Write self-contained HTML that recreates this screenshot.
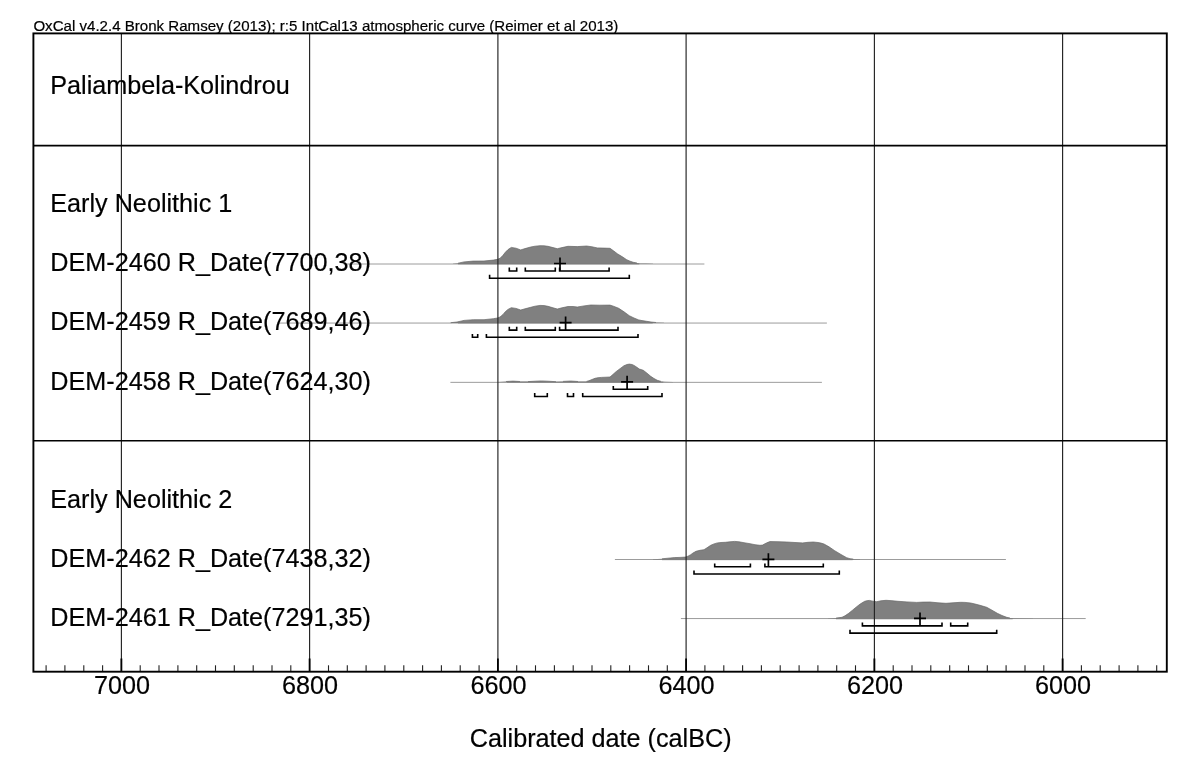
<!DOCTYPE html>
<html><head><meta charset="utf-8"><title>OxCal</title>
<style>
html,body{margin:0;padding:0;background:#fff;}
body{width:1200px;height:772px;overflow:hidden;}
svg{display:block;will-change:transform;opacity:0.999;}
text{font-family:"Liberation Sans",sans-serif;fill:#000;stroke:#000;stroke-width:0.2px;}
</style></head><body>
<svg width="1200" height="772" viewBox="0 0 1200 772">
<rect x="0" y="0" width="1200" height="772" fill="#fff"/>
<text x="33.4" y="30.8" font-size="15.09px">OxCal v4.2.4 Bronk Ramsey (2013); r:5 IntCal13 atmospheric curve (Reimer et al 2013)</text>
<line x1="343.5" y1="264.0" x2="704.4" y2="264.0" stroke="#9c9c9c" stroke-width="1"/>
<line x1="279" y1="323.05" x2="826.9" y2="323.05" stroke="#9c9c9c" stroke-width="1"/>
<line x1="450.4" y1="382.35" x2="821.9" y2="382.35" stroke="#9c9c9c" stroke-width="1"/>
<line x1="614.9" y1="559.5" x2="1005.9" y2="559.5" stroke="#9c9c9c" stroke-width="1"/>
<line x1="680.9" y1="618.55" x2="1085.7" y2="618.55" stroke="#9c9c9c" stroke-width="1"/>
<path d="M453.0,263.7 L458.0,263.2 L464.0,261.9 L473.0,261.1 L484.0,261.0 L493.3,260.1 L497.5,259.3 L500.0,258.3 L503.0,255.3 L505.3,252.3 L508.0,249.6 L511.3,247.4 L516.0,248.2 L520.7,249.9 L525.0,248.6 L530.7,247.0 L535.0,246.2 L540.0,245.7 L544.0,245.8 L548.0,246.3 L553.0,247.6 L557.3,248.7 L562.0,247.6 L568.0,246.3 L577.3,246.6 L586.7,246.0 L592.0,246.8 L597.3,247.9 L604.0,248.1 L610.0,248.3 L613.5,250.8 L617.3,253.7 L622.0,256.6 L626.7,259.7 L630.0,261.2 L633.3,262.3 L637.0,263.0 L640.0,263.4 L646.0,263.6 L653.0,263.7 L653.0,263.9 L453.0,263.9 Z" fill="#808080"/>
<path d="M458.0,263.2 L464.0,261.9 L473.0,261.1 L484.0,261.0 L493.3,260.1 L497.5,259.3 L500.0,258.3 L503.0,255.3 L505.3,252.3 L508.0,249.6 L511.3,247.4 L516.0,248.2 L520.7,249.9 L525.0,248.6 L530.7,247.0 L535.0,246.2 L540.0,245.7 L544.0,245.8 L548.0,246.3 L553.0,247.6 L557.3,248.7 L562.0,247.6 L568.0,246.3 L577.3,246.6 L586.7,246.0 L592.0,246.8 L597.3,247.9 L604.0,248.1 L610.0,248.3 L613.5,250.8 L617.3,253.7 L622.0,256.6 L626.7,259.7 L630.0,261.2 L633.3,262.3 L637.0,263.0" fill="none" stroke="#666" stroke-width="0.7" stroke-linejoin="round"/>
<line x1="458.0" y1="263.9" x2="639.3" y2="263.9" stroke="#777" stroke-width="0.7"/>
<path d="M450.7,322.7 L457.0,322.0 L464.0,320.4 L473.3,319.7 L484.0,319.7 L493.3,318.7 L497.5,318.0 L500.0,317.0 L503.0,314.5 L505.3,311.7 L508.0,309.4 L511.3,307.7 L516.0,308.4 L520.7,310.0 L525.0,308.8 L530.7,307.3 L535.0,306.2 L540.0,305.4 L544.0,305.6 L548.0,306.3 L553.0,307.8 L557.3,309.0 L562.0,307.8 L568.0,306.5 L573.0,306.5 L577.3,307.0 L584.0,305.9 L590.7,305.0 L600.0,305.2 L610.0,305.1 L614.0,306.4 L618.7,308.3 L624.0,311.8 L629.3,315.7 L634.0,318.0 L638.7,319.9 L642.0,320.6 L646.7,321.3 L651.0,322.0 L656.0,322.5 L664.0,322.7 L664.0,323.0 L450.7,323.0 Z" fill="#808080"/>
<path d="M450.7,322.7 L457.0,322.0 L464.0,320.4 L473.3,319.7 L484.0,319.7 L493.3,318.7 L497.5,318.0 L500.0,317.0 L503.0,314.5 L505.3,311.7 L508.0,309.4 L511.3,307.7 L516.0,308.4 L520.7,310.0 L525.0,308.8 L530.7,307.3 L535.0,306.2 L540.0,305.4 L544.0,305.6 L548.0,306.3 L553.0,307.8 L557.3,309.0 L562.0,307.8 L568.0,306.5 L573.0,306.5 L577.3,307.0 L584.0,305.9 L590.7,305.0 L600.0,305.2 L610.0,305.1 L614.0,306.4 L618.7,308.3 L624.0,311.8 L629.3,315.7 L634.0,318.0 L638.7,319.9 L642.0,320.6 L646.7,321.3 L651.0,322.0 L656.0,322.5" fill="none" stroke="#666" stroke-width="0.7" stroke-linejoin="round"/>
<line x1="458.0" y1="323.0" x2="652.7" y2="323.0" stroke="#777" stroke-width="0.7"/>
<path d="M498.0,381.9 L506.0,381.5 L513.0,381.1 L520.0,381.5 L528.0,381.6 L535.0,381.2 L541.3,380.9 L548.0,381.2 L556.0,381.7 L563.0,381.4 L570.7,381.0 L578.0,381.5 L586.5,381.4 L589.0,380.7 L592.0,379.5 L595.0,378.3 L598.0,377.7 L601.3,377.4 L606.0,377.2 L610.0,377.0 L612.0,375.3 L616.0,371.7 L620.0,368.7 L624.0,365.7 L627.0,364.5 L629.3,364.1 L632.0,364.5 L634.0,365.4 L636.5,367.0 L639.3,369.0 L643.3,370.3 L647.0,373.2 L650.7,376.3 L654.0,378.5 L657.3,380.3 L661.0,381.4 L665.3,381.8 L673.0,381.9 L673.0,382.2 L498.0,382.2 Z" fill="#808080"/>
<path d="M506.0,381.5 L513.0,381.1 L520.0,381.5 M528.0,381.6 L535.0,381.2 L541.3,380.9 L548.0,381.2 L556.0,381.7 M563.0,381.4 L570.7,381.0 L578.0,381.5 M586.5,381.4 L589.0,380.7 L592.0,379.5 L595.0,378.3 L598.0,377.7 L601.3,377.4 L606.0,377.2 L610.0,377.0 L612.0,375.3 L616.0,371.7 L620.0,368.7 L624.0,365.7 L627.0,364.5 L629.3,364.1 L632.0,364.5 L634.0,365.4 L636.5,367.0 L639.3,369.0 L643.3,370.3 L647.0,373.2 L650.7,376.3 L654.0,378.5 L657.3,380.3 L661.0,381.4" fill="none" stroke="#666" stroke-width="0.7" stroke-linejoin="round"/>
<line x1="507.0" y1="382.2" x2="663.3" y2="382.2" stroke="#777" stroke-width="0.7"/>
<path d="M653.0,559.3 L662.0,558.8 L668.0,558.2 L674.7,557.6 L680.0,557.4 L685.3,557.1 L688.0,556.2 L690.7,554.7 L693.0,553.0 L696.0,551.3 L700.0,550.3 L704.0,549.7 L707.0,547.8 L710.7,545.3 L714.0,543.9 L717.3,542.9 L721.0,542.5 L725.3,542.3 L730.0,541.8 L734.7,541.4 L739.0,541.8 L744.0,542.7 L750.0,543.7 L755.0,544.7 L760.0,545.3 L762.5,545.1 L765.0,543.7 L768.0,542.3 L770.0,541.6 L778.0,541.7 L786.7,542.0 L795.0,542.5 L802.7,542.9 L808.0,542.3 L813.3,542.0 L818.0,542.5 L821.0,543.1 L824.0,544.0 L829.0,546.8 L834.7,550.7 L841.0,554.5 L846.7,557.7 L850.0,558.7 L853.3,559.1 L860.0,559.3 L860.0,559.7 L653.0,559.7 Z" fill="#808080"/>
<path d="M662.0,558.8 L668.0,558.2 L674.7,557.6 L680.0,557.4 L685.3,557.1 L688.0,556.2 L690.7,554.7 L693.0,553.0 L696.0,551.3 L700.0,550.3 L704.0,549.7 L707.0,547.8 L710.7,545.3 L714.0,543.9 L717.3,542.9 L721.0,542.5 L725.3,542.3 L730.0,541.8 L734.7,541.4 L739.0,541.8 L744.0,542.7 L750.0,543.7 L755.0,544.7 L760.0,545.3 L762.5,545.1 L765.0,543.7 L768.0,542.3 L770.0,541.6 L778.0,541.7 L786.7,542.0 L795.0,542.5 L802.7,542.9 L808.0,542.3 L813.3,542.0 L818.0,542.5 L821.0,543.1 L824.0,544.0 L829.0,546.8 L834.7,550.7 L841.0,554.5 L846.7,557.7 L850.0,558.7 L853.3,559.1" fill="none" stroke="#666" stroke-width="0.7" stroke-linejoin="round"/>
<line x1="662.0" y1="559.7" x2="852.7" y2="559.7" stroke="#777" stroke-width="0.7"/>
<path d="M828.0,618.4 L836.0,618.1 L842.0,617.3 L845.0,615.8 L848.7,613.3 L852.5,610.2 L856.7,606.7 L860.5,603.8 L864.7,601.3 L867.0,600.7 L869.3,600.4 L873.0,601.2 L876.7,601.7 L881.0,600.8 L886.0,600.3 L892.0,600.7 L898.0,601.3 L907.0,601.9 L916.7,602.4 L923.0,602.1 L930.0,602.0 L938.0,602.8 L946.0,603.3 L953.0,602.8 L960.7,602.3 L965.0,602.4 L970.7,603.0 L975.0,604.0 L980.0,605.3 L986.7,607.3 L992.0,610.2 L997.3,613.3 L1002.0,615.5 L1006.7,617.3 L1010.0,618.0 L1014.7,618.3 L1033.0,618.4 L1033.0,618.8 L828.0,618.8 Z" fill="#808080"/>
<path d="M836.0,618.1 L842.0,617.3 L845.0,615.8 L848.7,613.3 L852.5,610.2 L856.7,606.7 L860.5,603.8 L864.7,601.3 L867.0,600.7 L869.3,600.4 L873.0,601.2 L876.7,601.7 L881.0,600.8 L886.0,600.3 L892.0,600.7 L898.0,601.3 L907.0,601.9 L916.7,602.4 L923.0,602.1 L930.0,602.0 L938.0,602.8 L946.0,603.3 L953.0,602.8 L960.7,602.3 L965.0,602.4 L970.7,603.0 L975.0,604.0 L980.0,605.3 L986.7,607.3 L992.0,610.2 L997.3,613.3 L1002.0,615.5 L1006.7,617.3 L1010.0,618.0" fill="none" stroke="#666" stroke-width="0.7" stroke-linejoin="round"/>
<line x1="836.0" y1="618.8" x2="1012.7" y2="618.8" stroke="#777" stroke-width="0.7"/>
<line x1="121.4" y1="33.4" x2="121.4" y2="671.6" stroke="#222" stroke-width="1.15"/>
<line x1="121.4" y1="658.5" x2="121.4" y2="671.6" stroke="#000" stroke-width="1.8"/>
<line x1="309.6" y1="33.4" x2="309.6" y2="671.6" stroke="#222" stroke-width="1.15"/>
<line x1="309.6" y1="658.5" x2="309.6" y2="671.6" stroke="#000" stroke-width="1.8"/>
<line x1="497.9" y1="33.4" x2="497.9" y2="671.6" stroke="#222" stroke-width="1.15"/>
<line x1="497.9" y1="658.5" x2="497.9" y2="671.6" stroke="#000" stroke-width="1.8"/>
<line x1="686.1" y1="33.4" x2="686.1" y2="671.6" stroke="#222" stroke-width="1.15"/>
<line x1="686.1" y1="658.5" x2="686.1" y2="671.6" stroke="#000" stroke-width="1.8"/>
<line x1="874.4" y1="33.4" x2="874.4" y2="671.6" stroke="#222" stroke-width="1.15"/>
<line x1="874.4" y1="658.5" x2="874.4" y2="671.6" stroke="#000" stroke-width="1.8"/>
<line x1="1062.6" y1="33.4" x2="1062.6" y2="671.6" stroke="#222" stroke-width="1.15"/>
<line x1="1062.6" y1="658.5" x2="1062.6" y2="671.6" stroke="#000" stroke-width="1.8"/>
<line x1="46.1" y1="665.3" x2="46.1" y2="671.6" stroke="#222" stroke-width="1.1"/>
<line x1="64.9" y1="665.3" x2="64.9" y2="671.6" stroke="#222" stroke-width="1.1"/>
<line x1="83.8" y1="665.3" x2="83.8" y2="671.6" stroke="#222" stroke-width="1.1"/>
<line x1="102.6" y1="665.3" x2="102.6" y2="671.6" stroke="#222" stroke-width="1.1"/>
<line x1="140.2" y1="665.3" x2="140.2" y2="671.6" stroke="#222" stroke-width="1.1"/>
<line x1="159.0" y1="665.3" x2="159.0" y2="671.6" stroke="#222" stroke-width="1.1"/>
<line x1="177.9" y1="665.3" x2="177.9" y2="671.6" stroke="#222" stroke-width="1.1"/>
<line x1="196.7" y1="665.3" x2="196.7" y2="671.6" stroke="#222" stroke-width="1.1"/>
<line x1="215.5" y1="665.3" x2="215.5" y2="671.6" stroke="#222" stroke-width="1.1"/>
<line x1="234.3" y1="665.3" x2="234.3" y2="671.6" stroke="#222" stroke-width="1.1"/>
<line x1="253.2" y1="665.3" x2="253.2" y2="671.6" stroke="#222" stroke-width="1.1"/>
<line x1="272.0" y1="665.3" x2="272.0" y2="671.6" stroke="#222" stroke-width="1.1"/>
<line x1="290.8" y1="665.3" x2="290.8" y2="671.6" stroke="#222" stroke-width="1.1"/>
<line x1="328.5" y1="665.3" x2="328.5" y2="671.6" stroke="#222" stroke-width="1.1"/>
<line x1="347.3" y1="665.3" x2="347.3" y2="671.6" stroke="#222" stroke-width="1.1"/>
<line x1="366.1" y1="665.3" x2="366.1" y2="671.6" stroke="#222" stroke-width="1.1"/>
<line x1="384.9" y1="665.3" x2="384.9" y2="671.6" stroke="#222" stroke-width="1.1"/>
<line x1="403.8" y1="665.3" x2="403.8" y2="671.6" stroke="#222" stroke-width="1.1"/>
<line x1="422.6" y1="665.3" x2="422.6" y2="671.6" stroke="#222" stroke-width="1.1"/>
<line x1="441.4" y1="665.3" x2="441.4" y2="671.6" stroke="#222" stroke-width="1.1"/>
<line x1="460.2" y1="665.3" x2="460.2" y2="671.6" stroke="#222" stroke-width="1.1"/>
<line x1="479.1" y1="665.3" x2="479.1" y2="671.6" stroke="#222" stroke-width="1.1"/>
<line x1="516.7" y1="665.3" x2="516.7" y2="671.6" stroke="#222" stroke-width="1.1"/>
<line x1="535.5" y1="665.3" x2="535.5" y2="671.6" stroke="#222" stroke-width="1.1"/>
<line x1="554.4" y1="665.3" x2="554.4" y2="671.6" stroke="#222" stroke-width="1.1"/>
<line x1="573.2" y1="665.3" x2="573.2" y2="671.6" stroke="#222" stroke-width="1.1"/>
<line x1="592.0" y1="665.3" x2="592.0" y2="671.6" stroke="#222" stroke-width="1.1"/>
<line x1="610.8" y1="665.3" x2="610.8" y2="671.6" stroke="#222" stroke-width="1.1"/>
<line x1="629.6" y1="665.3" x2="629.6" y2="671.6" stroke="#222" stroke-width="1.1"/>
<line x1="648.5" y1="665.3" x2="648.5" y2="671.6" stroke="#222" stroke-width="1.1"/>
<line x1="667.3" y1="665.3" x2="667.3" y2="671.6" stroke="#222" stroke-width="1.1"/>
<line x1="704.9" y1="665.3" x2="704.9" y2="671.6" stroke="#222" stroke-width="1.1"/>
<line x1="723.8" y1="665.3" x2="723.8" y2="671.6" stroke="#222" stroke-width="1.1"/>
<line x1="742.6" y1="665.3" x2="742.6" y2="671.6" stroke="#222" stroke-width="1.1"/>
<line x1="761.4" y1="665.3" x2="761.4" y2="671.6" stroke="#222" stroke-width="1.1"/>
<line x1="780.2" y1="665.3" x2="780.2" y2="671.6" stroke="#222" stroke-width="1.1"/>
<line x1="799.1" y1="665.3" x2="799.1" y2="671.6" stroke="#222" stroke-width="1.1"/>
<line x1="817.9" y1="665.3" x2="817.9" y2="671.6" stroke="#222" stroke-width="1.1"/>
<line x1="836.7" y1="665.3" x2="836.7" y2="671.6" stroke="#222" stroke-width="1.1"/>
<line x1="855.5" y1="665.3" x2="855.5" y2="671.6" stroke="#222" stroke-width="1.1"/>
<line x1="893.2" y1="665.3" x2="893.2" y2="671.6" stroke="#222" stroke-width="1.1"/>
<line x1="912.0" y1="665.3" x2="912.0" y2="671.6" stroke="#222" stroke-width="1.1"/>
<line x1="930.8" y1="665.3" x2="930.8" y2="671.6" stroke="#222" stroke-width="1.1"/>
<line x1="949.7" y1="665.3" x2="949.7" y2="671.6" stroke="#222" stroke-width="1.1"/>
<line x1="968.5" y1="665.3" x2="968.5" y2="671.6" stroke="#222" stroke-width="1.1"/>
<line x1="987.3" y1="665.3" x2="987.3" y2="671.6" stroke="#222" stroke-width="1.1"/>
<line x1="1006.1" y1="665.3" x2="1006.1" y2="671.6" stroke="#222" stroke-width="1.1"/>
<line x1="1025.0" y1="665.3" x2="1025.0" y2="671.6" stroke="#222" stroke-width="1.1"/>
<line x1="1043.8" y1="665.3" x2="1043.8" y2="671.6" stroke="#222" stroke-width="1.1"/>
<line x1="1081.4" y1="665.3" x2="1081.4" y2="671.6" stroke="#222" stroke-width="1.1"/>
<line x1="1100.2" y1="665.3" x2="1100.2" y2="671.6" stroke="#222" stroke-width="1.1"/>
<line x1="1119.1" y1="665.3" x2="1119.1" y2="671.6" stroke="#222" stroke-width="1.1"/>
<line x1="1137.9" y1="665.3" x2="1137.9" y2="671.6" stroke="#222" stroke-width="1.1"/>
<line x1="1156.7" y1="665.3" x2="1156.7" y2="671.6" stroke="#222" stroke-width="1.1"/>
<rect x="33.4" y="33.4" width="1133.4" height="638.3" fill="none" stroke="#000" stroke-width="1.9"/>
<line x1="33.4" y1="145.6" x2="1166.8" y2="145.6" stroke="#000" stroke-width="1.6"/>
<line x1="33.4" y1="440.7" x2="1166.8" y2="440.7" stroke="#000" stroke-width="1.6"/>
<path d="M509.3,267.6 L509.3,271.0 L516.7,271.0 L516.7,267.6" fill="none" stroke="#000" stroke-width="1.6" stroke-linejoin="miter"/>
<path d="M525.3,267.6 L525.3,271.0 L555.3,271.0 L555.3,267.6" fill="none" stroke="#000" stroke-width="1.6" stroke-linejoin="miter"/>
<path d="M559.6,267.6 L559.6,271.0 L609.1,271.0 L609.1,267.6" fill="none" stroke="#000" stroke-width="1.6" stroke-linejoin="miter"/>
<path d="M489.6,274.8 L489.6,278.2 L629.3,278.2 L629.3,274.8" fill="none" stroke="#000" stroke-width="1.6" stroke-linejoin="miter"/>
<path d="M554.0,263.5 L566.0,263.5 M560.0,257.5 L560.0,271.0" fill="none" stroke="#000" stroke-width="1.7"/>
<path d="M509.3,326.7 L509.3,330.1 L516.7,330.1 L516.7,326.7" fill="none" stroke="#000" stroke-width="1.6" stroke-linejoin="miter"/>
<path d="M525.3,326.7 L525.3,330.1 L555.3,330.1 L555.3,326.7" fill="none" stroke="#000" stroke-width="1.6" stroke-linejoin="miter"/>
<path d="M559.6,326.7 L559.6,330.1 L618.0,330.1 L618.0,326.7" fill="none" stroke="#000" stroke-width="1.6" stroke-linejoin="miter"/>
<path d="M472.4,333.9 L472.4,337.3 L477.7,337.3 L477.7,333.9" fill="none" stroke="#000" stroke-width="1.6" stroke-linejoin="miter"/>
<path d="M486.4,333.9 L486.4,337.3 L638.0,337.3 L638.0,333.9" fill="none" stroke="#000" stroke-width="1.6" stroke-linejoin="miter"/>
<path d="M559.6,322.6 L571.6,322.6 M565.6,316.6 L565.6,330.1" fill="none" stroke="#000" stroke-width="1.7"/>
<path d="M613.3,385.9 L613.3,389.3 L647.7,389.3 L647.7,385.9" fill="none" stroke="#000" stroke-width="1.6" stroke-linejoin="miter"/>
<path d="M534.7,393.1 L534.7,396.5 L547.3,396.5 L547.3,393.1" fill="none" stroke="#000" stroke-width="1.6" stroke-linejoin="miter"/>
<path d="M567.5,393.1 L567.5,396.5 L573.5,396.5 L573.5,393.1" fill="none" stroke="#000" stroke-width="1.6" stroke-linejoin="miter"/>
<path d="M582.7,393.1 L582.7,396.5 L662.0,396.5 L662.0,393.1" fill="none" stroke="#000" stroke-width="1.6" stroke-linejoin="miter"/>
<path d="M621.1,381.8 L633.1,381.8 M627.1,375.8 L627.1,389.3" fill="none" stroke="#000" stroke-width="1.7"/>
<path d="M714.7,563.4 L714.7,566.8 L750.4,566.8 L750.4,563.4" fill="none" stroke="#000" stroke-width="1.6" stroke-linejoin="miter"/>
<path d="M764.9,563.4 L764.9,566.8 L823.3,566.8 L823.3,563.4" fill="none" stroke="#000" stroke-width="1.6" stroke-linejoin="miter"/>
<path d="M694.0,570.6 L694.0,574.0 L839.3,574.0 L839.3,570.6" fill="none" stroke="#000" stroke-width="1.6" stroke-linejoin="miter"/>
<path d="M762.4,559.3 L774.4,559.3 M768.4,553.3 L768.4,566.8" fill="none" stroke="#000" stroke-width="1.7"/>
<path d="M862.4,622.5 L862.4,625.9 L942.0,625.9 L942.0,622.5" fill="none" stroke="#000" stroke-width="1.6" stroke-linejoin="miter"/>
<path d="M950.7,622.5 L950.7,625.9 L967.7,625.9 L967.7,622.5" fill="none" stroke="#000" stroke-width="1.6" stroke-linejoin="miter"/>
<path d="M850.0,629.7 L850.0,633.1 L996.7,633.1 L996.7,629.7" fill="none" stroke="#000" stroke-width="1.6" stroke-linejoin="miter"/>
<path d="M914.0,618.4 L926.0,618.4 M920.0,612.4 L920.0,625.9" fill="none" stroke="#000" stroke-width="1.7"/>
<text x="50.3" y="93.8" font-size="25.2px">Paliambela-Kolindrou</text>
<text x="50.3" y="212.0" font-size="25.2px">Early Neolithic 1</text>
<text x="50.3" y="271.3" font-size="25.2px">DEM-2460 R_Date(7700,38)</text>
<text x="50.3" y="330.4" font-size="25.2px">DEM-2459 R_Date(7689,46)</text>
<text x="50.3" y="389.5" font-size="25.2px">DEM-2458 R_Date(7624,30)</text>
<text x="50.3" y="507.8" font-size="25.2px">Early Neolithic 2</text>
<text x="50.3" y="566.9" font-size="25.2px">DEM-2462 R_Date(7438,32)</text>
<text x="50.3" y="626.0" font-size="25.2px">DEM-2461 R_Date(7291,35)</text>
<text x="121.9" y="693.8" font-size="25.2px" text-anchor="middle">7000</text>
<text x="310.1" y="693.8" font-size="25.2px" text-anchor="middle">6800</text>
<text x="498.4" y="693.8" font-size="25.2px" text-anchor="middle">6600</text>
<text x="686.6" y="693.8" font-size="25.2px" text-anchor="middle">6400</text>
<text x="874.9" y="693.8" font-size="25.2px" text-anchor="middle">6200</text>
<text x="1063.1" y="693.8" font-size="25.2px" text-anchor="middle">6000</text>
<text x="600.7" y="746.9" font-size="25.2px" text-anchor="middle">Calibrated date (calBC)</text>
</svg></body></html>
